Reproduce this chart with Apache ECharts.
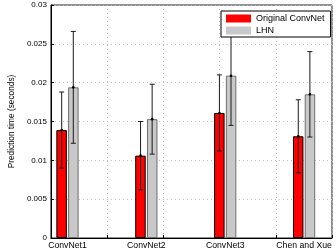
<!DOCTYPE html>
<html>
<head>
<meta charset="utf-8">
<script src="https://cdn.jsdelivr.net/npm/echarts@6/dist/echarts.min.js"></script>
<style>
html,body{margin:0;padding:0;background:#fff;}
#chart{width:336px;height:251px;}
</style>
</head>
<body>
<div id="chart"></div>
<script>
const categories = ['ConvNet1', 'ConvNet2', 'ConvNet3', 'Chen and Xue'];
const seriesNames = ['Original ConvNet', 'LHN'];
const originalMean = [0.0139, 0.0106, 0.0161, 0.0131];
const originalErr = [0.0049, 0.0044, 0.0049, 0.0047];
const lhnMean = [0.0194, 0.0153, 0.0209, 0.0185];
const lhnErr = [0.0072, 0.0045, 0.0064, 0.0055];
const yTickLabels = ['0', '0.005', '0.01', '0.015', '0.02', '0.025', '0.03'];

const FONT = 'Liberation Sans, Arial, sans-serif';
const BAR_W = 10.5;
const OFFSET = 5.8;

function barData(means) {
  return means.map((v, i) => [i + 1, v]);
}
function errData(means, errs) {
  return means.map((v, i) => [i + 1, v, errs[i]]);
}
function errRender(offset) {
  return function (params, api) {
    const x = api.value(0), m = api.value(1), e = api.value(2);
    const hi = api.coord([x, m + e]);
    const lo = api.coord([x, m - e]);
    const mid = api.coord([x, m]);
    const cx = hi[0] + offset;
    const cap = 2.5;
    const style = { stroke: '#1a1a1a', lineWidth: 1 };
    return {
      type: 'group',
      children: [
        { type: 'line', shape: { x1: cx, y1: hi[1], x2: cx, y2: lo[1] }, style: style },
        { type: 'line', shape: { x1: cx - cap, y1: hi[1], x2: cx + cap, y2: hi[1] }, style: style },
        { type: 'line', shape: { x1: cx - cap, y1: lo[1], x2: cx + cap, y2: lo[1] }, style: style },
        { type: 'circle', shape: { cx: cx, cy: mid[1], r: 1.3 }, style: { fill: '#000' } }
      ]
    };
  };
}

const chart = echarts.init(document.getElementById('chart'), null, { renderer: 'canvas' });
chart.setOption({
  animation: false,
  backgroundColor: '#fff',
  textStyle: { fontFamily: FONT },
  grid: {
    left: 39, right: 4, top: 5, bottom: 13,
    show: true, borderColor: '#222', borderWidth: 1, backgroundColor: 'transparent'
  },
  legend: {
    data: seriesNames,
    orient: 'vertical',
    left: 221, top: 11,
    itemWidth: 25, itemHeight: 8, itemGap: 3,
    padding: [3, 6, 2, 5],
    icon: 'rect',
    backgroundColor: '#fff',
    borderColor: '#000', borderWidth: 1, borderRadius: 0,
    itemStyle: { borderWidth: 0 },
    textStyle: { fontSize: 9, color: '#000', fontFamily: FONT },
    z: 20
  },
  xAxis: [
    {
      type: 'value', min: 0.79, max: 4.354,
      axisLine: { show: true, lineStyle: { color: '#000', width: 1 } },
      axisTick: { show: false },
      splitLine: { show: false },
      axisLabel: {
        customValues: [1, 2, 3, 4],
        formatter: v => categories[Math.round(v) - 1] || '',
        fontSize: 8.7, color: '#000', margin: 3, fontFamily: FONT
      }
    },
    {
      type: 'value', min: 0, max: 5, interval: 1, position: 'bottom',
      axisLine: { show: false },
      axisLabel: { show: false },
      axisTick: { show: true, inside: true, length: 3, lineStyle: { color: '#000' } },
      splitLine: { show: true, lineStyle: { color: '#bdbdbd', type: [1, 3], width: 1 } }
    }
  ],
  yAxis: {
    type: 'value', min: 0, max: 0.03, interval: 0.005,
    name: 'Prediction time (seconds)',
    nameLocation: 'middle', nameGap: 31,
    nameTextStyle: { fontSize: 8.3, color: '#000', fontFamily: FONT },
    axisLine: { show: true, lineStyle: { color: '#000', width: 1 } },
    axisTick: { show: true, inside: true, length: 3, lineStyle: { color: '#000' } },
    axisLabel: {
      fontSize: 8, color: '#000', margin: 4, fontFamily: FONT,
      formatter: v => yTickLabels[Math.round(v / 0.005)]
    },
    splitLine: { show: true, lineStyle: { color: '#bdbdbd', type: [1, 3], width: 1 } }
  },
  series: [
    {
      name: seriesNames[0], type: 'bar', xAxisIndex: 0,
      data: barData(originalMean),
      barWidth: BAR_W, barGap: '12%',
      itemStyle: { color: '#ff0000', borderColor: '#000', borderWidth: 1 },
      z: 2
    },
    {
      name: seriesNames[1], type: 'bar', xAxisIndex: 0,
      data: barData(lhnMean),
      barWidth: BAR_W, barGap: '12%',
      itemStyle: { color: '#c8c8c8', borderColor: '#6e6e6e', borderWidth: 1 },
      z: 2
    },
    {
      name: 'errOrig', type: 'custom', xAxisIndex: 0,
      data: errData(originalMean, originalErr),
      renderItem: errRender(-OFFSET), z: 5
    },
    {
      name: 'errLhn', type: 'custom', xAxisIndex: 0,
      data: errData(lhnMean, lhnErr),
      renderItem: errRender(OFFSET), z: 5
    }
  ]
});
</script>
</body>
</html>
